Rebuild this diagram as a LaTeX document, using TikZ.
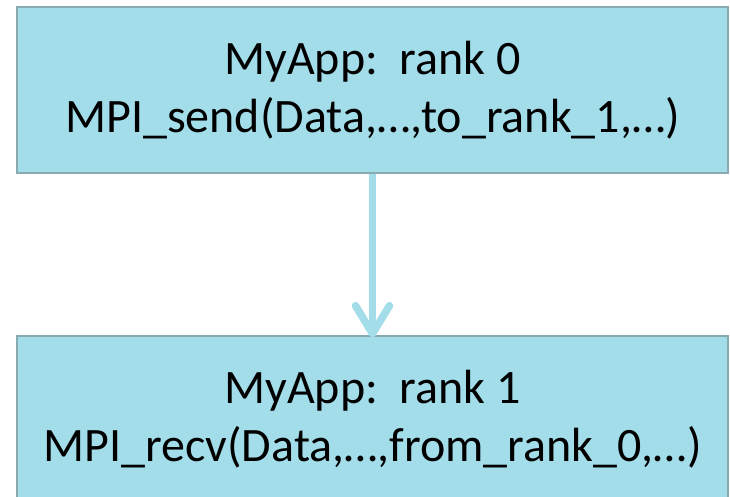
\documentclass[tikz,border=0pt]{standalone}
\usepackage{fontspec}
\setmainfont{Carlito}
\usetikzlibrary{arrows.meta}
\definecolor{boxfill}{HTML}{A2DDE9}
\definecolor{boxline}{HTML}{8AAAB2}
\definecolor{arrowcol}{HTML}{A2DDE9}
\begin{document}
\begin{tikzpicture}[x=1pt,y=-1pt,
  appbox/.style={draw=boxline,line width=1.2pt,fill=boxfill,minimum width=711pt,minimum height=166pt,inner sep=0pt,align=center,font=\fontsize{48}{58}\selectfont},
  flow/.style={draw=arrowcol,line width=7.5pt,-{Straight Barb[length=28pt,width=34pt,round]}}]
\useasboundingbox (0,0) rectangle (730,496);
\begin{scope}
\clip (0,0) rectangle (730,496);
\node[appbox] (r0) at (372.5,90) {MyApp:\ \ rank 0\\MPI\_send(Data,…,to\_rank\_1,…)};
\node[appbox] (r1) at (372.5,419) {MyApp:\ \ rank 1\\MPI\_recv(Data,…,from\_rank\_0,…)};
\draw[flow] (r0.south) -- ([yshift=-2pt]r1.north);
\end{scope}
\end{tikzpicture}
\end{document}
